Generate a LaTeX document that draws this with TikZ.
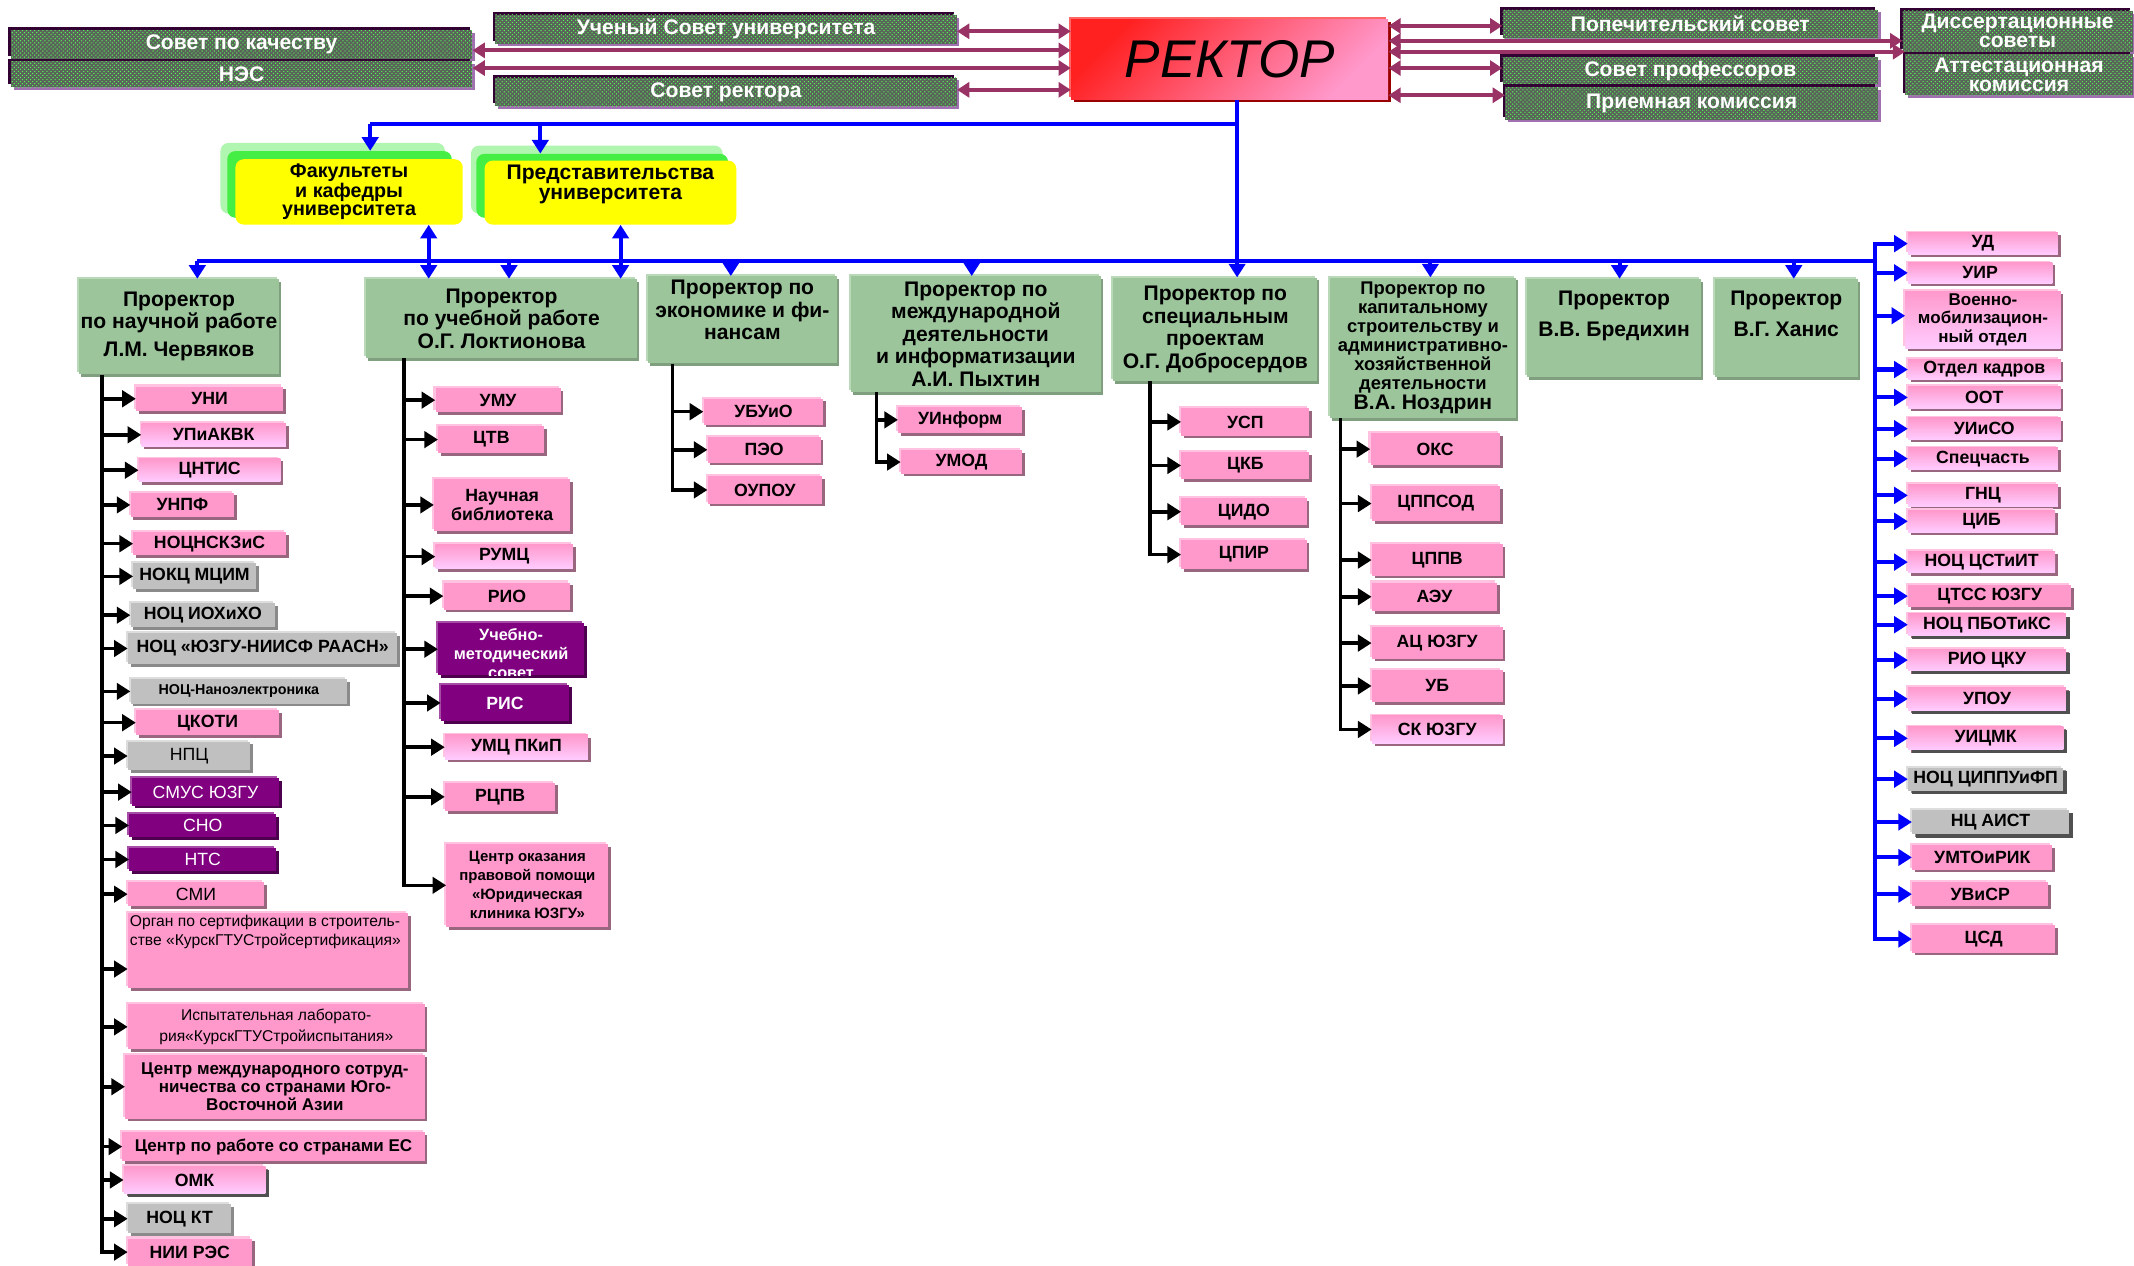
\documentclass[tikz,border=0pt]{standalone}
\usepackage{fontspec}
\setmainfont{Liberation Sans}
\usetikzlibrary{arrows.meta,shadows,patterns}
\definecolor{pinkF}{HTML}{FF99CC}
\definecolor{pinkL}{HTML}{FFCCFF}
\definecolor{pinkSh}{HTML}{996680}
\definecolor{pinkHi}{HTML}{FFC2E0}
\definecolor{grayF}{HTML}{C0C0C0}
\definecolor{graySh}{HTML}{8A8A8A}
\definecolor{grayHi}{HTML}{DDDDDD}
\definecolor{purpF}{HTML}{800080}
\definecolor{purpSh}{HTML}{4D004D}
\definecolor{purpHi}{HTML}{A64DA6}
\definecolor{greenF}{HTML}{9CC59C}
\definecolor{greenSh}{HTML}{7F9F7F}
\definecolor{greenHi}{HTML}{B9D9B9}
\definecolor{tbBase}{HTML}{5A635A}
\definecolor{dotG}{HTML}{55FF55}
\definecolor{tbDark}{HTML}{330033}
\definecolor{tbLight}{HTML}{A070B0}
\definecolor{arrP}{HTML}{993366}
\definecolor{rRed}{HTML}{FF2020}
\definecolor{rPink}{HTML}{FF99CC}
\definecolor{rSh}{HTML}{990000}
\definecolor{ylY}{HTML}{FFFF00}
\definecolor{ylG}{HTML}{44EE44}
\definecolor{ylP}{HTML}{B0F5B0}
\definecolor{dkSh}{HTML}{505050}
\definecolor{blueL}{HTML}{0000FF}
\newcommand{\fz}[2]{\fontsize{#1}{#2}\selectfont}
\newcommand{\bx}[7]{\node[#1, minimum width={(#5)-(#3)}, minimum height={(#6)-(#4)}] (#2) at ({((#3)+(#5))/2},{((#4)+(#6))/2}) {#7};}
\tikzset{
 bbox/.style={inner sep=1pt, align=center, font=\bfseries\fz{13}{14}},
 pk/.style={bbox, fill=pinkF, general shadow={shadow xshift=-1.5pt, shadow yshift=1.5pt, fill=pinkHi}, general shadow={shadow xshift=2pt, shadow yshift=-2pt, fill=pinkSh}},
 pkg/.style={pk, top color=pinkF, bottom color=pinkL},
 gr/.style={bbox, fill=grayF, general shadow={shadow xshift=-1.5pt, shadow yshift=1.5pt, fill=grayHi}, general shadow={shadow xshift=2pt, shadow yshift=-2pt, fill=graySh}},
 pu/.style={bbox, fill=purpF, text=white, general shadow={shadow xshift=-1.5pt, shadow yshift=1.5pt, fill=purpHi}, general shadow={shadow xshift=2pt, shadow yshift=-2pt, fill=purpSh}},
 dk/.style={general shadow={shadow xshift=3pt, shadow yshift=-2.5pt, fill=dkSh}},
 reg/.style={font=\mdseries\fz{13}{14}},
 pr/.style={bbox, fill=greenF, font=\bfseries\fz{15.5}{16.5}, general shadow={shadow xshift=-1.5pt, shadow yshift=1.5pt, fill=greenHi}, general shadow={shadow xshift=1.5pt, shadow yshift=-2pt, fill=greenSh}},
 tb/.style={bbox, fill=tbBase, postaction={pattern=crosshatch dots, pattern color=dotG}, text=white, font=\bfseries\fz{15.5}{14}, general shadow={shadow xshift=-2pt, shadow yshift=2pt, fill=tbDark}, general shadow={shadow xshift=2pt, shadow yshift=-2pt, fill=tbLight}},
 rect/.style={bbox, top color=rRed, bottom color=rPink, shading angle=45, font=\itshape\fz{39}{40}, general shadow={shadow xshift=-1.5pt, shadow yshift=1.5pt, fill=red!60}, general shadow={shadow xshift=2pt, shadow yshift=-2pt, fill=rSh}},
 yl3/.style={fill=ylP, rounded corners=6pt, inner sep=0pt},
 yl2/.style={fill=ylG, rounded corners=6pt, inner sep=0pt},
 yl/.style={fill=ylY, rounded corners=6pt, inner sep=1pt, align=center, font=\bfseries\fz{14.5}{13.5}},
 barr/.style={draw=black, line width=2.6pt, -{Triangle[length=10pt,width=12pt]}},
 blarr/.style={draw=blueL, line width=3pt, -{Triangle[length=10pt,width=12pt]}},
 blarr2/.style={draw=blueL, line width=3pt, {Triangle[length=10pt,width=12pt]}-{Triangle[length=10pt,width=12pt]}},
 bl/.style={draw=blueL, line width=3pt},
 parr/.style={draw=arrP, line width=2.8pt, {Triangle[length=9pt,width=11pt]}-{Triangle[length=9pt,width=11pt]}},
}
\begin{document}
\begin{tikzpicture}[x=1pt,y=-1pt]
\useasboundingbox (0,0) rectangle (1568,930);
\fill[white] (0,0) rectangle (1568,930);
% ---- top councils
\bx{tb}{kach}{8}{22}{347}{43}{Совет по качеству}
\bx{tb}{nes}{8}{45}{347}{64}{НЭС}
\bx{tb}{uch}{364}{11}{703}{32}{Ученый Совет университета}
\bx{tb}{sovr}{364}{57}{703}{78}{Совет ректора}
\bx{tb}{pop}{1104}{7}{1380}{28}{Попечительский совет}
\bx{tb}{sprof}{1104}{42}{1380}{62}{Совет профессоров}
\bx{tb}{priem}{1106}{64}{1380}{88}{\raisebox{3pt}{Приемная комиссия}}
\bx{tb}{diss}{1398}{8}{1567}{38}{Диссертационные\\советы}
\bx{tb}{att}{1400}{40}{1567}{70}{Аттестационная\\комиссия}
\bx{rect}{rector}{787}{14}{1020}{73}{РЕКТОР}
% ---- yellow
\bx{yl3}{fak3}{162}{105}{327}{157}{}
\bx{yl2}{fak2}{167}{111}{332}{160}{}
\bx{yl}{fak}{173}{117}{340}{165}{Факультеты\\и кафедры\\университета}
\bx{yl3}{pred3}{346}{107}{531}{157}{}
\bx{yl2}{pred2}{350}{113}{535}{160}{}
\bx{yl,font=\bfseries\fz{15.5}{15}}{pred}{356}{118}{541}{165}{\parbox[c][41pt][t]{180pt}{\centering Представительства\\университета}}
% ---- prorectors
\bx{pr}{p1}{58}{205}{205}{275}{Проректор\\по научной работе\\[4pt]Л.М. Червяков}
\bx{pr}{p2}{269}{205}{468}{263}{Проректор\\по учебной работе\\О.Г. Локтионова}
\bx{pr}{p3}{476}{203}{615}{267}{\parbox[c][58pt][t]{135pt}{\centering Проректор по\\экономике и фи-\\нансам}}
\bx{pr}{p4}{625}{203}{809}{288}{Проректор по\\международной\\деятельности\\и информатизации\\А.И. Пыхтин}
\bx{pr}{p5}{818}{204}{968}{280}{Проректор по\\специальным\\проектам\\О.Г. Добросердов}
\bx{pr,font=\bfseries\fz{13.5}{14}}{p6}{977}{204}{1114}{307}{Проректор по\\капитальному\\строительству и\\административно-\\хозяйственной\\деятельности\\{\fz{15.5}{16}В.А. Ноздрин}}
\bx{pr}{p7}{1122}{205}{1250}{277}{\parbox[c][54pt][t]{124pt}{\centering Проректор\\[6pt]В.В. Бредихин}}
\bx{pr}{p8}{1260}{205}{1365}{277}{\parbox[c][54pt][t]{101pt}{\centering Проректор\\[6pt]В.Г. Ханис}}
% ---- column 1
\bx{pk}{uni}{100}{284}{208}{302}{УНИ}
\bx{pkg}{upi}{104}{311}{210}{328}{УПиАКВК}
\bx{pkg}{cntis}{102}{337}{206}{354}{ЦНТИС}
\bx{pk}{unpf}{96}{362}{172}{380}{УНПФ}
\bx{pk}{nocn}{98}{391}{210}{408}{НОЦНСКЗиС}
\bx{gr}{nokc}{98}{414}{188}{433}{НОКЦ МЦИМ}
\bx{gr}{nocio}{96}{443}{202}{461}{НОЦ ИОХиХО}
\bx{gr}{nocyu}{94}{465}{292}{488}{НОЦ «ЮЗГУ-НИИСФ РААСН»}
\bx{gr,font=\bfseries\fz{10.5}{11}}{nano}{96}{499}{255}{517}{НОЦ-Наноэлектроника}
\bx{pk}{ckoti}{100}{522}{205}{540}{ЦКОТИ}
\bx{gr,reg}{npc}{94}{545}{184}{566}{НПЦ}
\bx{pu,reg}{smus}{97}{572}{205}{592}{СМУС ЮЗГУ}
\bx{pu,reg}{sno}{95}{598}{203}{615}{СНО}
\bx{pu,reg}{nts}{95}{623}{203}{640}{НТС}
\bx{pk,reg}{smi}{94}{648}{194}{666}{СМИ}
\bx{pk,font=\mdseries\fz{11.5}{14}}{organ}{94}{671}{300}{726}{\parbox[c][52pt][t]{203pt}{\raggedright Орган по сертификации в строитель-\\стве «КурскГТУСтройсертификация»}}
\bx{pk,font=\mdseries\fz{11.5}{15}}{isp}{94}{738}{312}{771}{Испытательная лаборато-\\рия«КурскГТУСтройиспытания»}
\bx{pk,font=\bfseries\fz{12.5}{13}}{cmsa}{92}{775}{312}{822}{Центр международного сотруд-\\ничества со странами Юго-\\Восточной Азии}
\bx{pk,font=\bfseries\fz{12.5}{13}}{ces}{90}{832}{312}{853}{Центр по работе со странами ЕС}
\bx{pkg,dk}{omk}{91}{857}{195}{877}{ОМК}
\bx{gr}{nockt}{94}{885}{170}{906}{НОЦ КТ}
\bx{pk}{niires}{94}{910}{185}{930}{НИИ РЭС}
% ---- column 2
\bx{pk}{umu}{320}{285}{412}{303}{УМУ}
\bx{pk}{ctv}{322}{313}{400}{333}{ЦТВ}
\bx{pk}{nbib}{319}{352}{419}{390}{Научная\\библиотека}
\bx{pkg}{rumc}{320}{400}{421}{418}{РУМЦ}
\bx{pk}{rio}{326}{428}{419}{448}{РИО}
\node[pu, minimum width=107, minimum height=38, path picture={\node[text=white, font=\bfseries\fz{12}{14}, align=center] at ([yshift=-3pt]path picture bounding box.center) {Учебно-\\методический\\совет};}] (ums) at (375.5,477) {};
\bx{pu}{ris}{324}{503}{418}{530}{РИС}
\bx{pkg}{umcp}{327}{540}{432}{558}{УМЦ ПКиП}
\bx{pk}{rcpv}{327}{575}{408}{596}{РЦПВ}
\bx{pk,font=\bfseries\fz{11}{14}}{yur}{328}{620}{447}{681}{Центр оказания\\правовой помощи\\«Юридическая\\клиника ЮЗГУ»}
% ---- column 3
\bx{pk}{ubu}{517}{293}{605}{312}{УБУиО}
\bx{pk}{peo}{520}{321}{603}{340}{ПЭО}
\bx{pk}{oupou}{520}{350}{604}{370}{ОУПОУ}
% ---- column 4
\bx{pk}{uinf}{660}{299}{751}{318}{УИнформ}
\bx{pk}{umod}{662}{331}{751}{348}{УМОД}
% ---- column 5
\bx{pk}{usp}{868}{300}{962}{320}{УСП}
\bx{pk}{ckb}{868}{332}{962}{352}{ЦКБ}
\bx{pk}{cido}{868}{366}{960}{386}{ЦИДО}
\bx{pk}{cpir}{868}{397}{960}{418}{ЦПИР}
% ---- column 6
\bx{pk}{oks}{1007}{318}{1102}{342}{ОКС}
\bx{pk}{cppsod}{1008}{357}{1102}{383}{ЦППСОД}
\bx{pk}{cppv}{1008}{400}{1104}{423}{ЦППВ}
\bx{pk}{aeu}{1008}{428}{1100}{449}{АЭУ}
\bx{pk}{acyu}{1008}{461}{1104}{484}{АЦ ЮЗГУ}
\bx{pk}{ub}{1008}{492}{1104}{516}{УБ}
\bx{pkg}{skyu}{1008}{526}{1104}{546}{СК ЮЗГУ}
% ---- right column
\bx{pkg}{ud}{1402}{171}{1512}{187}{УД}
\bx{pkg}{uir}{1402}{193}{1508}{208}{УИР}
\bx{pkg,font=\bfseries\fz{12.5}{13.5}}{vmo}{1400}{214}{1514}{256}{Военно-\\мобилизацион-\\ный отдел}
\bx{pkg}{okadr}{1402}{264}{1514}{279}{Отдел кадров}
\bx{pkg}{oot}{1402}{284}{1514}{300}{ООТ}
\bx{pkg}{uiso}{1402}{307}{1514}{323}{УИиСО}
\bx{pkg}{spch}{1402}{329}{1512}{345}{Спецчасть}
\bx{pkg}{gnc}{1402}{356}{1512}{372}{ГНЦ}
\bx{pkg}{cib}{1402}{375}{1510}{391}{ЦИБ}
\bx{pkg}{nocst}{1402}{405}{1510}{421}{НОЦ ЦСТиИТ}
\bx{pk}{ctss}{1402}{430}{1522}{446}{ЦТСС ЮЗГУ}
\bx{pkg,dk}{nocpb}{1402}{451}{1518}{467}{НОЦ ПБОТиКС}
\bx{pkg,dk}{rioc}{1402}{477}{1518}{493}{РИО ЦКУ}
\bx{pkg,dk}{upou}{1402}{505}{1518}{522}{УПОУ}
\bx{pkg,dk}{uicmk}{1402}{534}{1516}{551}{УИЦМК}
\bx{gr,dk}{nocci}{1402}{564}{1516}{581}{НОЦ ЦИППУиФП}
\bx{gr,dk}{ncaist}{1405}{595}{1520}{613}{НЦ АИСТ}
\bx{pk}{umto}{1405}{621}{1508}{639}{УМТОиРИК}
\bx{pk}{uvisr}{1405}{648}{1505}{666}{УВиСР}
\bx{pk}{csd}{1405}{680}{1510}{700}{ЦСД}
% ---- purple council arrows
\draw[parr] (uch.east |- 0,23) -- (rector.west |- 0,23);
\draw[parr] (kach.east |- 0,37) -- (rector.west |- 0,37);
\draw[parr] (nes.east |- 0,50) -- (rector.west |- 0,50);
\draw[parr] (sovr.east |- 0,66) -- (rector.west |- 0,66);
\draw[parr] (rector.east |- 0,19) -- (pop.west |- 0,19);
\draw[parr] (rector.east |- 0,30) -- (diss.west |- 0,30);
\draw[parr] (rector.east |- 0,38) -- (att.west |- 0,38);
\draw[parr] (rector.east |- 0,50) -- (sprof.west |- 0,50);
\draw[parr] (rector.east |- 0,70) -- (priem.west |- 0,70);
% ---- blue structure
\coordinate (rx) at (909,0);
\coordinate (j) at (909,91);
\coordinate (fa) at (272,91);
\coordinate (pa) at (397,91);
\draw[blarr] (rector.south -| rx) -- (p5.north -| rx);
\draw[bl] (j) -- (fa);
\draw[blarr] (fa) -- (fa |- fak2.north);
\draw[blarr] (pa) -- (pa |- pred2.north);
\coordinate (rs) at (1378,178);
\coordinate (b1) at (145,192);
\draw[bl] (b1) -- (b1 -| rs);
\draw[blarr] (b1) -- (b1 |- p1.north);
\coordinate (u1) at (315,0);
\coordinate (u2) at (456,0);
\draw[blarr2] (fak.south -| u1) -- (p2.north -| u1);
\draw[blarr2] (pred.south -| u2) -- (p2.north -| u2);
\foreach \xx/\nn in {374/p2,537/p3,714/p4,1051/p6,1190/p7,1318/p8}
  \draw[blarr] (\xx,192) -- (\nn.north -| \xx,0);
\draw[blarr] (rs) |- (csd.west);
\foreach \nn in {ud,uir,okadr,oot,uiso,spch,gnc,cib,nocst,ctss,nocpb,rioc,upou,uicmk,nocci,ncaist,umto,uvisr}
  \draw[blarr] (rs |- \nn.west) -- (\nn.west);
\draw[blarr] (rs |- 0,232) -- (vmo.west |- 0,232);
% ---- black spines
\coordinate (s1) at (p1.south -| 75,0);
\draw[barr] (s1) |- (niires.west);
\foreach \nn in {uni,upi,cntis,unpf,nocn,nokc,nocio,nocyu,nano,ckoti,npc,smus,sno,nts,smi,isp,cmsa,ces,omk,nockt}
  \draw[barr] (s1 |- \nn.west) -- (\nn.west);
\draw[barr] (s1 |- 0,712) -- (organ.west |- 0,712);
\coordinate (s2) at (p2.south -| 297,0);
\draw[barr] (s2) |- (yur.west);
\foreach \nn in {umu,ctv,nbib,rumc,rio,ums,ris,umcp,rcpv}
  \draw[barr] (s2 |- \nn.west) -- (\nn.west);
\coordinate (s3) at (p3.south -| 494,0);
\draw[barr] (s3) |- (oupou.west);
\foreach \nn in {ubu,peo}
  \draw[barr] (s3 |- \nn.west) -- (\nn.west);
\coordinate (s4) at (p4.south -| 644,0);
\draw[barr] (s4) |- (umod.west);
\draw[barr] (s4 |- uinf.west) -- (uinf.west);
\coordinate (s5) at (p5.south -| 845,0);
\draw[barr] (s5) |- (cpir.west);
\foreach \nn in {usp,ckb,cido}
  \draw[barr] (s5 |- \nn.west) -- (\nn.west);
\coordinate (s6) at (p6.south -| 985,0);
\draw[barr] (s6) |- (skyu.west);
\foreach \nn in {oks,cppsod,cppv,aeu,acyu,ub}
  \draw[barr] (s6 |- \nn.west) -- (\nn.west);
\end{tikzpicture}
\end{document}
